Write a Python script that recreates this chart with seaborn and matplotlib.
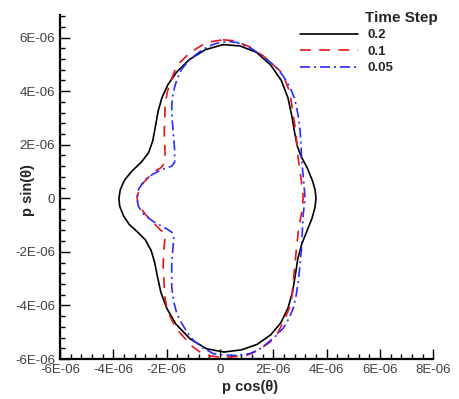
import numpy as np
import pandas as pd
import matplotlib
matplotlib.use("Agg")
import matplotlib.pyplot as plt
from matplotlib.ticker import MultipleLocator, FuncFormatter
import seaborn as sns

# Closed curves p(theta) traced in the (p cos, p sin) plane, values in units of 1e-6
steps = ["0.2", "0.1", "0.05"]

x_02 = [0.12, 0.75, 1.37, 1.90, 2.30, 2.55, 2.70, 2.80, 2.90, 3.05, 3.28, 3.47, 3.57, 3.60,
        3.56, 3.45, 3.27, 3.07, 2.92, 2.82, 2.72, 2.55, 2.28, 1.90, 1.40, 0.80, 0.15,
        -0.50, -1.12, -1.65, -2.00, -2.22, -2.35, -2.45, -2.58, -2.80, -3.10, -3.40,
        -3.62, -3.76, -3.79, -3.74, -3.58, -3.30, -2.95, -2.68, -2.52, -2.42, -2.32,
        -2.18, -1.95, -1.62, -1.15, -0.55, 0.12]
y_02 = [5.74, 5.69, 5.45, 4.98, 4.40, 3.75, 3.05, 2.45, 1.95, 1.55, 1.12, 0.65, 0.30, 0.00,
        -0.35, -0.75, -1.20, -1.70, -2.25, -2.90, -3.50, -4.10, -4.65, -5.10, -5.45, -5.66, -5.74,
        -5.62, -5.25, -4.70, -4.10, -3.50, -2.90, -2.40, -1.95, -1.55, -1.25, -0.98,
        -0.65, -0.30, 0.00, 0.32, 0.68, 1.02, 1.35, 1.70, 2.15, 2.70, 3.25,
        3.75, 4.25, 4.72, 5.18, 5.55, 5.74]

x_01 = [0.11, 0.56, 1.10, 1.62, 2.25, 2.45, 2.62, 2.72, 2.81, 2.88, 2.94, 3.01, 3.06, 3.10,
        3.12, 3.08, 3.00, 2.94, 2.87, 2.81, 2.75, 2.69, 2.58, 2.44, 2.13, 1.90, 1.62, 1.30,
        1.00, 0.37, 0.00, -0.40, -0.75, -1.05, -1.25, -1.52, -1.75, -1.90, -2.00, -2.06,
        -2.10, -2.13, -2.11, -2.06, -2.10, -2.25, -2.56, -2.80, -2.98, -3.09, -3.11, -3.02,
        -2.88, -2.65, -2.44, -2.20, -2.10, -2.06, -2.09, -2.07, -2.06, -1.98, -1.87, -1.70,
        -1.50, -1.12, -0.50, 0.11]
y_01 = [5.92, 5.88, 5.66, 5.32, 4.76, 4.40, 3.95, 3.30, 2.70, 2.05, 1.45, 0.95, 0.58, 0.28,
        -0.01, -0.45, -0.85, -1.21, -1.85, -2.48, -3.10, -3.73, -4.15, -4.48, -5.10, -5.35, -5.55, -5.74,
        -5.86, -5.93, -5.93, -5.88, -5.74, -5.52, -5.30, -5.00, -4.66, -4.35, -4.05, -3.73,
        -3.15, -2.55, -1.93, -1.45, -1.28, -1.17, -0.84, -0.60, -0.35, -0.12, 0.05, 0.33,
        0.57, 0.82, 1.01, 1.15, 1.30, 1.70, 2.45, 3.00, 3.45, 3.95, 4.32, 4.75,
        5.07, 5.45, 5.82, 5.92]

x_005 = [0.37, 0.63, 1.20, 1.75, 2.10, 2.37, 2.62, 2.81, 2.93, 3.00, 3.04, 3.06, 3.11, 3.15,
         3.19, 3.15, 3.12, 3.09, 3.06, 3.00, 2.94, 2.86, 2.75, 2.58, 2.37, 2.08, 1.75, 1.45,
         1.12, 0.50, 0.10, -0.25, -0.65, -1.00, -1.25, -1.50, -1.62, -1.75, -1.81, -1.81,
         -1.77, -1.73, -1.80, -2.00, -2.19, -2.45, -2.69, -2.90, -3.06, -3.12, -3.05, -2.81,
         -2.55, -2.31, -2.05, -1.81, -1.70, -1.70, -1.75, -1.80, -1.81, -1.77, -1.69, -1.58,
         -1.44, -1.12, -0.63, -0.25, 0.00, 0.37]
y_005 = [5.85, 5.82, 5.58, 5.20, 4.90, 4.57, 4.15, 3.70, 3.10, 2.57, 2.00, 1.45, 0.95, 0.51,
         0.00, -0.35, -0.61, -1.20, -1.85, -2.50, -3.09, -3.60, -4.10, -4.50, -4.85, -5.15, -5.43, -5.65,
         -5.80, -5.87, -5.85, -5.80, -5.58, -5.30, -4.98, -4.55, -4.30, -3.80, -3.30, -2.48,
         -1.90, -1.50, -1.27, -1.14, -1.04, -0.90, -0.73, -0.55, -0.30, 0.01, 0.35, 0.70,
         0.88, 1.01, 1.12, 1.20, 1.35, 1.80, 2.45, 3.00, 3.45, 3.85, 4.20, 4.52,
         4.82, 5.20, 5.57, 5.75, 5.82, 5.85]

series = {"0.2": (x_02, y_02), "0.1": (x_01, y_01), "0.05": (x_005, y_005)}

frames = []
for step in steps:
    xs, ys = series[step]
    frames.append(pd.DataFrame({
        "px": np.asarray(xs) * 1e-6,
        "py": np.asarray(ys) * 1e-6,
        "Time Step": step,
    }))
df = pd.concat(frames, ignore_index=True)

sns.set_theme(style="ticks")
plt.rcParams["font.family"] = ["Liberation Sans", "DejaVu Sans"]

fig = plt.figure(figsize=(4.59, 3.99), dpi=100)
ax = fig.add_axes([60 / 459, 40 / 399, 373.3 / 459, 344.4 / 399])

palette = {"0.2": "#000000", "0.1": "#e8141c", "0.05": "#2b2bff"}
dashes = {"0.2": "", "0.1": (6.5, 5.0), "0.05": (6.0, 2.4, 1.2, 2.4)}

sns.lineplot(data=df, x="px", y="py", hue="Time Step", style="Time Step",
             hue_order=steps, style_order=steps, palette=palette, dashes=dashes,
             sort=False, estimator=None, linewidth=1.2, ax=ax)
for line in ax.get_lines():
    line.set_solid_joinstyle("round")
    line.set_dash_joinstyle("round")

ax.set_xlim(-6e-6, 8e-6)
ax.set_ylim(-6e-6, 6.86e-6)

fmt = FuncFormatter(lambda v, pos: "0" if abs(v) < 1e-12 else format(v, ".0E"))
for axis in (ax.xaxis, ax.yaxis):
    axis.set_major_locator(MultipleLocator(2e-6))
    axis.set_minor_locator(MultipleLocator(0.4e-6))
    axis.set_major_formatter(fmt)

ax.tick_params(which="both", direction="in", width=1.0, color="black",
               labelsize=9.5, labelcolor="#404040", pad=3.5)
ax.tick_params(which="major", length=7)
ax.tick_params(which="minor", length=3.8)

for side in ("top", "right"):
    ax.spines[side].set_visible(False)
for side in ("left", "bottom"):
    ax.spines[side].set_linewidth(1.6)
    ax.spines[side].set_color("black")

ax.set_xlabel("p cos(θ)", fontsize=10.5, fontweight="bold")
ax.set_ylabel("p sin(θ)", fontsize=10.5, fontweight="bold")
ax.xaxis.set_label_coords(0.51, -0.06)
ax.yaxis.set_label_coords(-0.068, 0.49)

handles, labels = ax.get_legend_handles_labels()
leg = ax.legend(handles, labels, loc="upper left",
                bbox_to_anchor=(300 / 459, 1 - 29 / 399), bbox_transform=fig.transFigure,
                frameon=False, borderpad=0, borderaxespad=0, handlelength=4.4,
                handletextpad=0.75, labelspacing=0.32,
                prop={"size": 9.5, "weight": "bold"})
for line in leg.get_lines():
    line.set_linewidth(1.2)

fig.text(401 / 459, 1 - 18 / 399, "Time Step", ha="center", va="center",
         fontsize=11, fontweight="bold")

fig.savefig("out.png", dpi=100)
